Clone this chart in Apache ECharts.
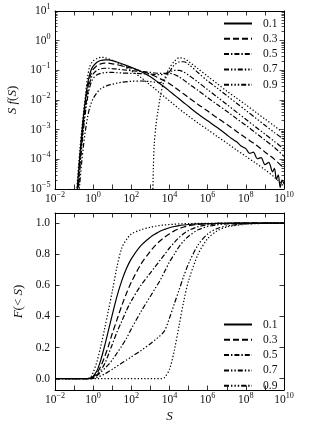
<!DOCTYPE html>
<html><head><meta charset="utf-8">
<script src="https://cdn.jsdelivr.net/npm/echarts@6/dist/echarts.min.js"></script>
<style>html,body{margin:0;padding:0;background:#fff}#c{width:316px;height:434px}</style>
</head><body><div id="c"></div>
<script>
// ---------------- data ----------------
// Legend categories
const legendNames = ['0.1', '0.3', '0.5', '0.7', '0.9'];
// Tick labels (exponents of ten on log axes; plain values on the linear axis)
const xTickExps = [-2, -1, 0, 1, 2, 3, 4, 5, 6, 7, 8, 9, 10];
const xLabelExps = [-2, 0, 2, 4, 6, 8, 10];
const yTopTickExps = [-5, -4, -3, -2, -1, 0, 1];
const yBottomTicks = [0, 0.2, 0.4, 0.6, 0.8, 1.0];

// ---- top panel: log10(S) grid and log10(S f(S)) values ----
const sTop = [-0.9,-0.8,-0.7,-0.6,-0.5,-0.4,-0.3,-0.2,-0.1,0,0.2,0.4,0.6,0.8,1,1.25,1.5,2,2.5,3,3.25,3.5,3.75,4,4.25,4.5,4.75,5,5.5,6,6.5,7,7.5,8,8.5,9,9.5,10];
const topLow = [-5.4,-4.5,-3.7,-3.0,-2.4,-1.82,-1.25,-0.92,-0.76,-0.68,-0.6,-0.56,-0.57,-0.61,-0.66,-0.74,-0.83,-1.02,-1.24,-1.5,-1.63,-1.77,-1.9,-2.03,-2.16,-2.3,-2.42,-2.54,-2.78,-3.0,-3.23,-3.45,-3.68,-3.9,-4.12,-4.35,-4.6,-4.9];
const s01Top = [-0.9,-0.8,-0.7,-0.6,-0.5,-0.4,-0.3,-0.2,-0.1,0,0.2,0.4,0.6,0.8,1,1.25,1.5,2,2.5,3,3.25,3.5,3.75,4,4.25,4.5,4.75,5,5.5,6,6.5,7,7.25,7.5,7.75,8,8.2,8.4,8.6,8.8,9,9.2,9.4,9.5,9.6,9.7,9.8,9.9,10];
const top01 = [-5.6,-4.7,-3.9,-3.15,-2.5,-1.95,-1.5,-1.18,-0.98,-0.86,-0.73,-0.67,-0.65,-0.65,-0.67,-0.72,-0.78,-0.9,-1.04,-1.22,-1.33,-1.45,-1.57,-1.7,-1.83,-1.96,-2.09,-2.22,-2.47,-2.7,-2.93,-3.17,-3.3,-3.4,-3.55,-3.64,-3.8,-3.76,-3.98,-3.94,-4.18,-4.1,-4.42,-4.3,-4.68,-4.52,-4.95,-4.7,-4.82];
const top03 = [-5.8,-4.9,-4.05,-3.3,-2.65,-2.1,-1.65,-1.32,-1.1,-0.97,-0.84,-0.78,-0.76,-0.76,-0.78,-0.81,-0.85,-0.93,-1.02,-1.13,-1.2,-1.28,-1.36,-1.45,-1.56,-1.68,-1.8,-1.92,-2.15,-2.37,-2.6,-2.82,-3.05,-3.28,-3.5,-3.75,-4.0,-4.3];
const top05 = [-6.0,-5.1,-4.2,-3.45,-2.8,-2.25,-1.8,-1.48,-1.25,-1.12,-1.0,-0.95,-0.93,-0.93,-0.94,-0.96,-0.98,-1.01,-1.04,-1.07,-1.09,-1.1,-1.1,-1.1,-1.14,-1.22,-1.33,-1.45,-1.68,-1.92,-2.15,-2.38,-2.62,-2.85,-3.1,-3.35,-3.6,-3.9];
const top07 = [-6.2,-5.3,-4.4,-3.6,-2.95,-2.4,-1.95,-1.62,-1.4,-1.27,-1.15,-1.1,-1.08,-1.07,-1.07,-1.08,-1.09,-1.1,-1.11,-1.13,-1.14,-1.15,-1.12,-1.05,-1.0,-1.0,-1.06,-1.16,-1.4,-1.65,-1.9,-2.15,-2.4,-2.65,-2.9,-3.15,-3.4,-3.65];
const top09 = [-6.5,-5.6,-4.8,-4.1,-3.5,-3.0,-2.6,-2.3,-2.1,-1.95,-1.75,-1.62,-1.55,-1.5,-1.47,-1.43,-1.4,-1.37,-1.36,-1.38,-1.4,-1.42,-1.3,-1.05,-0.82,-0.72,-0.71,-0.8,-1.08,-1.36,-1.6,-1.85,-2.1,-2.35,-2.6,-2.85,-3.1,-3.33];
const sHighTop = [3.1,3.15,3.2,3.3,3.4,3.5,3.65,3.8,4,4.25,4.5,4.75,5,5.5,6,6.5,7,7.5,8,8.5,9,9.5,10];
const topHigh = [-6,-4.4,-3.5,-2.8,-2.35,-1.95,-1.5,-1.18,-0.92,-0.7,-0.58,-0.6,-0.7,-0.95,-1.2,-1.45,-1.7,-1.93,-2.16,-2.4,-2.64,-2.88,-3.13];

// ---- bottom panel: log10(S) grid and F(<S) values ----
const sBot = [-2,-1,-0.5,-0.3,-0.2,-0.1,0,0.2,0.4,0.6,0.8,1,1.25,1.5,1.75,2,2.5,3,3.25,3.5,3.75,4,4.25,4.5,4.75,5,5.5,6,6.5,7,8,9,10];
const botLow = [0,0,0,0.001,0.005,0.015,0.04,0.11,0.21,0.32,0.44,0.56,0.72,0.84,0.895,0.93,0.957,0.974,0.98,0.985,0.988,0.991,0.993,0.995,0.996,0.997,0.998,0.999,0.9995,1,1,1,1];
const bot01 = [0,0,0,0,0.002,0.006,0.015,0.05,0.12,0.21,0.31,0.41,0.53,0.63,0.71,0.77,0.855,0.91,0.93,0.948,0.96,0.97,0.978,0.984,0.988,0.991,0.995,0.997,0.998,0.999,1,1,1];
const bot03 = [0,0,0,0,0.002,0.005,0.012,0.035,0.08,0.14,0.21,0.29,0.38,0.47,0.55,0.62,0.735,0.82,0.855,0.885,0.91,0.932,0.95,0.964,0.975,0.983,0.992,0.996,0.998,0.999,1,1,1];
const bot05 = [0,0,0,0,0.001,0.003,0.008,0.025,0.055,0.095,0.155,0.22,0.3,0.37,0.44,0.5,0.6,0.68,0.72,0.76,0.8,0.84,0.875,0.907,0.933,0.953,0.977,0.989,0.995,0.998,1,1,1];
const bot07 = [0,0,0,0,0,0.002,0.006,0.02,0.04,0.065,0.09,0.12,0.165,0.21,0.26,0.32,0.43,0.53,0.58,0.63,0.69,0.75,0.8,0.848,0.886,0.916,0.957,0.978,0.989,0.995,0.999,1,1];
const bot09 = [0,0,0,0,0,0,0.002,0.008,0.018,0.03,0.045,0.06,0.08,0.1,0.12,0.14,0.18,0.225,0.25,0.275,0.31,0.39,0.48,0.57,0.66,0.74,0.86,0.93,0.965,0.982,0.995,0.999,1];
const sHighBot = [-2,3.6,3.75,4,4.25,4.5,4.75,5,5.5,6,6.5,7,8,9,10];
const botHigh = [0,0,0.008,0.06,0.18,0.34,0.5,0.63,0.8,0.9,0.95,0.975,0.993,0.998,1];

// ---------------- styling ----------------
const FONT = 'Liberation Serif';
const TXT = '#111';
const LINE = '#000';
const FS = 11.5;
const DASH = {
  solid: 'solid',
  p03: [6, 3],
  p05: [5, 2, 1.4, 2],
  p07: [5, 2, 1.4, 2, 1.4, 2],
  p09: [5, 2, 1.4, 2, 1.4, 2, 1.4, 2],
  dot: [1.3, 2]
};

const pow10 = e => Number('1e' + e);
const xTickVals = xTickExps.map(pow10);
const xLabelVals = xLabelExps.map(pow10);
const yTopVals = yTopTickExps.map(pow10);
const minorMantissas = [2, 3, 4, 5, 6, 7, 8, 9];
const yTopMinor = [];
yTopTickExps.slice(0, -1).forEach(e => minorMantissas.forEach(m => yTopMinor.push(m * pow10(e))));

function powLabel(v) {
  const e = Math.round(Math.log10(v));
  return '{b|10}{s|' + (e < 0 ? '\u2212' + (-e) : e) + '}';
}
const richPow = {
  b: {fontFamily: FONT, fontSize: FS, color: TXT, lineHeight: 16},
  s: {fontFamily: FONT, fontSize: 8.2, color: TXT, lineHeight: 7, verticalAlign: 'top'}
};
const axisLine = {show: true, onZero: false, lineStyle: {color: LINE, width: 1}};
const nameRich = {
  i: {fontFamily: FONT, fontStyle: 'italic', fontSize: 13, color: TXT, lineHeight: 14},
  r: {fontFamily: FONT, fontSize: 13, color: TXT, lineHeight: 14}
};

function xAxisDef(grid, pos, withLabels, name) {
  return {
    type: 'log', logBase: 10, gridIndex: grid, position: pos, min: 1e-2, max: 1e10,
    axisLine: axisLine,
    axisTick: {show: true, inside: true, length: 4.5, customValues: xTickVals, lineStyle: {color: LINE, width: 0.8}},
    axisLabel: {show: withLabels, margin: 1.8, customValues: xLabelVals, formatter: powLabel, rich: richPow},
    splitLine: {show: false}, minorTick: {show: false},
    name: name || '', nameLocation: 'middle', nameGap: 20,
    nameTextStyle: {fontFamily: FONT, fontStyle: 'italic', fontSize: 13, color: TXT, lineHeight: 14}
  };
}
function yTopDef(pos, minor, withLabels, name) {
  return {
    type: 'log', logBase: 10, gridIndex: 0, position: pos, min: 1e-5, max: 1e1,
    axisLine: minor ? {show: false} : axisLine,
    axisTick: {show: true, inside: true, length: minor ? 2.5 : 4.5, customValues: minor ? yTopMinor : yTopVals, lineStyle: {color: LINE, width: 0.7}},
    axisLabel: {show: withLabels, margin: 4.5, customValues: yTopVals, formatter: powLabel, rich: richPow},
    splitLine: {show: false}, minorTick: {show: false},
    name: name || '', nameLocation: 'middle', nameGap: 34,
    nameTextStyle: {rich: nameRich}
  };
}
function yBotDef(pos, withLabels, name) {
  return {
    type: 'value', gridIndex: 1, position: pos, min: -0.073, max: 1.065,
    axisLine: axisLine,
    axisTick: {show: true, inside: true, length: 4.5, customValues: yBottomTicks, lineStyle: {color: LINE, width: 0.8}},
    axisLabel: {show: withLabels, margin: 5, customValues: yBottomTicks, formatter: v => v.toFixed(1),
      fontFamily: FONT, fontSize: FS, color: TXT},
    splitLine: {show: false},
    name: name || '', nameLocation: 'middle', nameGap: 27.5,
    nameTextStyle: {rich: nameRich}
  };
}

function lineSeries(name, sExp, vals, dash, xi, yi, yIsLog) {
  return {
    type: 'line', name: name, xAxisIndex: xi, yAxisIndex: yi,
    data: sExp.map((s, i) => [Math.pow(10, s), yIsLog ? Math.pow(10, vals[i]) : vals[i]]),
    symbol: 'none', showSymbol: false, smooth: 0.3, clip: true, silent: true,
    lineStyle: {color: LINE, width: 1.2, type: dash},
    z: 3
  };
}

const series = [
  lineSeries('lowLimit', sTop, topLow, DASH.dot, 0, 0, true),
  lineSeries('0.1', s01Top, top01, DASH.solid, 0, 0, true),
  lineSeries('0.3', sTop, top03, DASH.p03, 0, 0, true),
  lineSeries('0.5', sTop, top05, DASH.p05, 0, 0, true),
  lineSeries('0.7', sTop, top07, DASH.p07, 0, 0, true),
  lineSeries('0.9', sTop, top09, DASH.p09, 0, 0, true),
  lineSeries('highLimit', sHighTop, topHigh, DASH.dot, 0, 0, true),
  lineSeries('lowLimit', sBot, botLow, DASH.dot, 2, 4, false),
  lineSeries('0.1', sBot, bot01, DASH.solid, 2, 4, false),
  lineSeries('0.3', sBot, bot03, DASH.p03, 2, 4, false),
  lineSeries('0.5', sBot, bot05, DASH.p05, 2, 4, false),
  lineSeries('0.7', sBot, bot07, DASH.p07, 2, 4, false),
  lineSeries('0.9', sBot, bot09, DASH.p09, 2, 4, false),
  lineSeries('highLimit', sHighBot, botHigh, DASH.dot, 2, 4, false)
];

function legendDef(top) {
  return {
    data: legendNames, orient: 'vertical', left: 223, top: top, padding: 0,
    itemWidth: 28, itemHeight: 10, itemGap: 3.3, selectedMode: false,
    itemStyle: {opacity: 0},
    textStyle: {fontFamily: FONT, fontSize: FS, color: TXT, padding: [0, 0, 0, 6]}
  };
}

const option = {
  animation: false,
  backgroundColor: '#fff',
  grid: [
    {left: 55, top: 11, width: 229, height: 178, outerBoundsMode: 'none'},
    {left: 55, top: 213, width: 229, height: 177, outerBoundsMode: 'none'}
  ],
  xAxis: [
    xAxisDef(0, 'bottom', true),
    xAxisDef(0, 'top', false),
    xAxisDef(1, 'bottom', true, 'S'),
    xAxisDef(1, 'top', false)
  ],
  yAxis: [
    yTopDef('left', false, true, '{i|S f}{r|(}{i|S}{r|)}'),
    yTopDef('left', true, false),
    yTopDef('right', false, false),
    yTopDef('right', true, false),
    yBotDef('left', true, '{i|F}{r|(< }{i|S}{r|)}'),
    yBotDef('right', false)
  ],
  legend: [legendDef(17.5), legendDef(318.5)],
  series: series
};

const chart = echarts.init(document.getElementById('c'), null, {renderer: 'canvas', width: 316, height: 434});
chart.setOption(option);
</script>
</body></html>
